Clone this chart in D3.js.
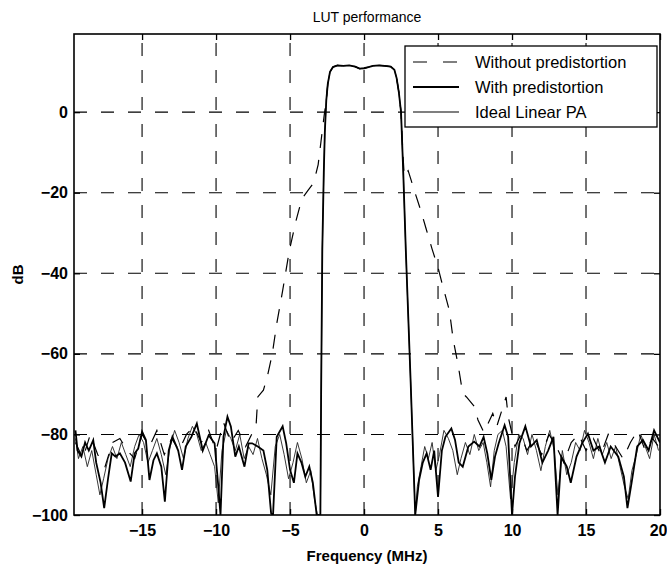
<!DOCTYPE html>
<html><head><meta charset="utf-8">
<script src="https://cdn.jsdelivr.net/npm/d3@7"></script>
<style>
body{margin:0;background:#fff}
text{font-family:"Liberation Sans",Arial,Helvetica,sans-serif;fill:#000}
</style>
</head><body>
<svg id="c" width="667" height="572"></svg>
<script>
// ---------------- data ----------------
const titleText = "LUT performance";
const xLabelText = "Frequency (MHz)";
const yLabelText = "dB";
const xTicks = [-15, -10, -5, 0, 5, 10, 15, 20];
const yTicks = [-100, -80, -60, -40, -20, 0];
const seriesNames = ["Without predistortion", "With predistortion", "Ideal Linear PA"];

// main channel (shared by all three curves)
const passband = [[-2.55,3],[-2.45,7],[-2.3,10],[-2.1,11.2],[-1.8,11.6],[-1.4,11.5],[-1.0,11.6],
  [-0.6,11.3],[-0.3,10.8],[0,10.9],[0.3,11.2],[0.6,11.5],[1.0,11.6],[1.4,11.5],[1.8,11.3],
  [2.05,10.5],[2.2,8.5],[2.35,5]];
const edgeLeft = [[-2.95,-100],[-2.9,-70],[-2.82,-34],[-2.72,-15],[-2.65,-5]];
const edgeRight = [[2.5,0],[2.65,-15],[2.82,-34],[3.15,-67],[3.46,-100]];

// With predistortion: out-of-band floor
const withLeft = [[-19.5,-79],[-19.36,-84],[-19.1,-85.5],[-18.85,-82],[-18.6,-84],[-18.3,-81.4],
  [-18.1,-87],[-17.8,-92],[-17.56,-98.3],[-17.3,-91],[-17.05,-84.7],[-16.8,-85.5],[-16.5,-84.7],
  [-16.15,-87],[-15.77,-91.7],[-15.5,-84.7],[-15.26,-83.5],[-15.0,-79.3],[-14.74,-81.4],[-14.5,-91.3],
  [-14.23,-86.4],[-14.0,-84.7],[-13.7,-88],[-13.46,-96.7],[-13.2,-84],[-12.95,-80.6],[-12.56,-84],
  [-12.3,-88.8],[-12.05,-83],[-11.67,-80.6],[-11.3,-77.3],[-10.9,-84],[-10.5,-80.2],[-10.1,-82.2],
  [-9.87,-92],[-9.7,-100],[-9.5,-80.6],[-9.23,-75.6],[-9.0,-78],[-8.7,-85.5],[-8.46,-83],[-8.08,-88],
  [-7.8,-82.2],[-7.56,-82.2],[-7.18,-83],[-6.8,-84],[-6.54,-88.8],[-6.28,-99.6],[-6.15,-100],
  [-5.9,-80.6],[-5.5,-78],[-5.26,-82.2],[-5.0,-88.8],[-4.74,-92],[-4.5,-84.7],[-4.23,-87],
  [-3.97,-90.5],[-3.7,-88],[-3.46,-92],[-3.2,-100]];
const withRight = [[3.72,-91.3],[3.97,-87],[4.23,-84.7],[4.5,-88.8],[4.74,-84],[5.0,-95.5],
  [5.26,-84],[5.5,-80.6],[5.9,-78.5],[6.15,-81.4],[6.4,-87],[6.67,-88],[7.05,-83],[7.44,-81.8],
  [7.8,-83],[8.08,-80.6],[8.33,-84.7],[8.6,-91.3],[8.85,-85.5],[9.1,-82.2],[9.5,-77.7],[9.74,-80.6],
  [10.0,-100],[10.2,-90.5],[10.5,-82.2],[10.9,-78],[11.28,-83],[11.67,-81.4],[12.05,-87],[12.44,-84],
  [12.8,-80.6],[13.08,-100],[13.33,-85.5],[13.7,-88],[13.97,-92],[14.36,-85.5],[14.74,-82.2],
  [15.13,-79.8],[15.5,-84],[15.9,-83],[16.28,-87],[16.67,-83],[17.18,-85.5],[17.56,-90.5],
  [17.8,-98.3],[18.08,-92],[18.46,-83],[18.85,-81.4],[19.23,-84],[19.6,-79],[20.0,-82]];

// Ideal linear PA: out-of-band floor
const idealLeft = [[-19.5,-81],[-19.3,-86],[-19.0,-83],[-18.7,-88],[-18.4,-84],[-18.1,-90],[-17.85,-95],
  [-17.6,-91],[-17.3,-86],[-17.0,-83],[-16.7,-86],[-16.4,-82],[-16.1,-85],[-15.8,-88],[-15.5,-83],
  [-15.2,-80],[-14.9,-82],[-14.6,-87],[-14.3,-84],[-14.0,-81],[-13.7,-85],[-13.4,-90],[-13.1,-83],
  [-12.8,-79],[-12.5,-82],[-12.2,-86],[-11.9,-81],[-11.6,-78],[-11.3,-80],[-11.0,-84],[-10.7,-82],
  [-10.4,-85],[-10.1,-88],[-9.85,-97],[-9.6,-84],[-9.3,-79],[-9.0,-81],[-8.7,-84],[-8.4,-80],
  [-8.1,-86],[-7.8,-83],[-7.5,-85],[-7.2,-81],[-6.9,-86],[-6.6,-90],[-6.3,-95],[-6.0,-83],[-5.7,-80],
  [-5.4,-85],[-5.1,-91],[-4.8,-87],[-4.5,-82],[-4.2,-86],[-3.9,-92],[-3.6,-89],[-3.35,-96],[-3.15,-100]];
const idealRight = [[3.6,-93],[3.85,-88],[4.1,-83],[4.35,-86],[4.6,-82],[4.85,-89],[5.1,-85],
  [5.4,-79],[5.7,-81],[6.0,-84],[6.3,-90],[6.55,-86],[6.85,-82],[7.15,-85],[7.45,-80],[7.75,-84],
  [8.05,-82],[8.3,-87],[8.55,-93],[8.8,-84],[9.05,-80],[9.35,-79],[9.6,-83],[9.9,-96],[10.15,-87],
  [10.45,-80],[10.75,-81],[11.05,-85],[11.35,-80],[11.65,-84],[11.95,-89],[12.25,-83],[12.55,-79],
  [12.85,-84],[13.1,-95],[13.4,-84],[13.7,-90],[14.0,-87],[14.3,-82],[14.6,-84],[14.9,-79],
  [15.2,-82],[15.5,-86],[15.8,-81],[16.1,-85],[16.4,-82],[16.7,-86],[17.0,-83],[17.3,-88],
  [17.6,-93],[17.85,-96],[18.1,-89],[18.4,-85],[18.7,-80],[19.0,-83],[19.3,-86],[19.6,-80],[19.9,-84]];

// Without predistortion: floor + spectral regrowth shoulders
const withoutLeft = [[-19.5,-82],[-19.0,-86],[-18.5,-80],[-18.0,-85],[-17.5,-88],[-17.0,-82],
  [-16.5,-81],[-16.0,-84],[-15.5,-86],[-15.0,-80],[-14.5,-83],[-14.0,-79],[-13.5,-85],[-13.0,-81],
  [-12.5,-84],[-12.0,-80],[-11.5,-78],[-11.0,-82],[-10.5,-79],[-10.0,-84],[-9.5,-77],[-9.0,-82],
  [-8.5,-79],[-8.0,-83],[-7.6,-80],[-7.3,-78],[-7.18,-70.7],[-6.8,-69],[-6.54,-65.7],[-6.2,-60],
  [-5.9,-52.5],[-5.5,-44.3],[-5.05,-34.4],[-4.6,-27],[-4.2,-21.5],[-3.8,-19.5],[-3.4,-17.5],
  [-3.1,-13],[-2.9,-7],[-2.7,-1]];
const withoutRight = [[2.5,0],[2.62,-10],[2.72,-16],[2.85,-15],[2.98,-14.5],[3.15,-16.5],[3.4,-19.5],
  [3.8,-24],[4.2,-29],[4.6,-34],[5.0,-38.6],[5.26,-42.3],[5.77,-49.3],[6.03,-56.6],[6.36,-62.8],
  [6.67,-69.8],[6.92,-70.7],[7.44,-73],[7.7,-76.4],[8.1,-79.5],[8.7,-74.8],[8.97,-78],[9.6,-70.7],
  [9.74,-75.6],[10.2,-83],[10.6,-80],[11.0,-84],[11.5,-81],[12.0,-85],[12.5,-80],[13.0,-83],
  [13.5,-87],[14.0,-82],[14.5,-80],[15.0,-84],[15.5,-81],[16.0,-85],[16.5,-80],[17.0,-83],
  [17.5,-86],[18.0,-82],[18.5,-79],[19.0,-84],[19.5,-81],[19.9,-83]];

// ---------------- chart ----------------
const svg = d3.select("#c");
const L = 74, R = 660, T = 34, B = 515;
const x = d3.scaleLinear([-19.6, 20], [L, R]);
const y = d3.scaleLinear([-100, 19.4], [B, T]);

const seriesWithout = withoutLeft.concat(passband, withoutRight);
const seriesWith = withLeft.concat(edgeLeft, passband, edgeRight, withRight);
const seriesIdeal = idealLeft.concat(edgeLeft, passband, edgeRight, idealRight);

svg.append("defs").append("clipPath").attr("id","clip")
  .append("rect").attr("x",L).attr("y",T).attr("width",R-L).attr("height",B-T);

// grid
const grid = svg.append("g").attr("stroke","#000").attr("stroke-width",1.1)
  .attr("stroke-dasharray","13,14").attr("fill","none");
grid.selectAll("line.v").data(xTicks.filter(d => d < 20)).join("line")
  .attr("x1", d => x(d)).attr("x2", d => x(d)).attr("y1", B).attr("y2", T);
grid.selectAll("line.h").data(yTicks.filter(d => d > -100)).join("line").attr("class","h")
  .attr("y1", d => y(d)).attr("y2", d => y(d)).attr("x1", L).attr("x2", R);

// axes (ticks inside, MATLAB style)
const axB = svg.append("g").attr("transform",`translate(0,${B})`)
  .call(d3.axisBottom(x).tickValues(xTicks).tickSize(-6).tickPadding(10).tickFormat(d3.format("d")));
const axT = svg.append("g").attr("transform",`translate(0,${T})`)
  .call(d3.axisTop(x).tickValues(xTicks).tickSize(-6).tickFormat(""));
const axL = svg.append("g").attr("transform",`translate(${L},0)`)
  .call(d3.axisLeft(y).tickValues(yTicks).tickSize(-6).tickPadding(6).tickFormat(d3.format("d")));
const axR = svg.append("g").attr("transform",`translate(${R},0)`)
  .call(d3.axisRight(y).tickValues(yTicks).tickSize(-6).tickFormat(""));
[axB, axT, axL, axR].forEach(a => {
  a.select(".domain").remove();
  a.selectAll(".tick line").attr("stroke","#000").attr("stroke-width",1.3);
  a.selectAll(".tick text").style("font-size","16px").style("font-weight","bold")
    .style("font-family","'Liberation Sans',Arial,sans-serif").attr("fill","#000");
});
// keep the right-most label inside the picture
axB.selectAll(".tick text").filter(d => d === 20).attr("text-anchor","end").attr("x", 7);

// curves
const line = d3.line().x(d => x(d[0])).y(d => y(d[1]));
const plot = svg.append("g").attr("clip-path","url(#clip)").attr("fill","none").attr("stroke","#000");
plot.append("path").datum(seriesIdeal).attr("d", line).attr("stroke-width",0.9).attr("stroke","#222");
plot.append("path").datum(seriesWithout).attr("d", line).attr("stroke-width",1.2)
  .attr("stroke-dasharray","14,12");
plot.append("path").datum(seriesWith).attr("d", line).attr("stroke-width",1.8);

// frame
svg.append("rect").attr("x",L).attr("y",T).attr("width",R-L).attr("height",B-T)
  .attr("fill","none").attr("stroke","#000").attr("stroke-width",1.6);

// legend
const lg = svg.append("g");
lg.append("rect").attr("x",405).attr("y",46).attr("width",252).attr("height",81)
  .attr("fill","#fff").attr("stroke","#000").attr("stroke-width",1.3);
const dashes = ["14,16", null, null];
const widths = [1.2, 1.8, 1.2];
seriesNames.forEach((n, i) => {
  const yy = 62 + i * 25;
  const l = lg.append("line").attr("x1",413).attr("x2",459).attr("y1",yy).attr("y2",yy)
    .attr("stroke","#000").attr("stroke-width",widths[i]);
  if (dashes[i]) l.attr("stroke-dasharray", dashes[i]);
  lg.append("text").attr("x",475).attr("y",yy).attr("dy","0.36em")
    .style("font-size","16.5px").text(n);
});

// titles
svg.append("text").attr("x",(L+R)/2).attr("y",22).attr("text-anchor","middle")
  .style("font-size","14px").text(titleText);
svg.append("text").attr("x",(L+R)/2).attr("y",561).attr("text-anchor","middle")
  .style("font-size","15px").style("font-weight","bold").text(xLabelText);
svg.append("text").attr("transform",`translate(23,${(T+B)/2}) rotate(-90)`)
  .attr("text-anchor","middle").style("font-size","15px").style("font-weight","bold").text(yLabelText);
</script>
</body></html>
